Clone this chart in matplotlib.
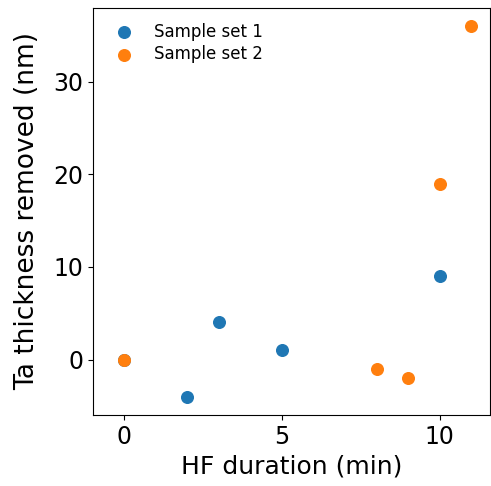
import matplotlib.pyplot as plt
from matplotlib.ticker import MultipleLocator

# HF etch data
set1_time = [0, 2, 3, 5, 10]
set1_removed = [0, -4, 4, 1, 9]
set2_time = [0, 8, 9, 10, 11]
set2_removed = [0, -1, -2, 19, 36]

fig, ax = plt.subplots(figsize=(4.91, 4.86), dpi=100)
fig.subplots_adjust(left=0.189, right=0.998, bottom=0.146, top=0.984)

ax.scatter(set1_time, set1_removed, s=70, label='Sample set 1')
ax.scatter(set2_time, set2_removed, s=70, label='Sample set 2')

ax.set_xlim(-1, 11.6)
ax.yaxis.set_major_locator(MultipleLocator(10))
ax.set_xlabel('HF duration (min)', fontsize=18)
ax.set_ylabel('Ta thickness removed (nm)', fontsize=19, labelpad=9)
ax.tick_params(labelsize=17)
ax.legend(frameon=False, loc='upper left', fontsize=12, labelspacing=0.25)

fig.savefig('out.png')
